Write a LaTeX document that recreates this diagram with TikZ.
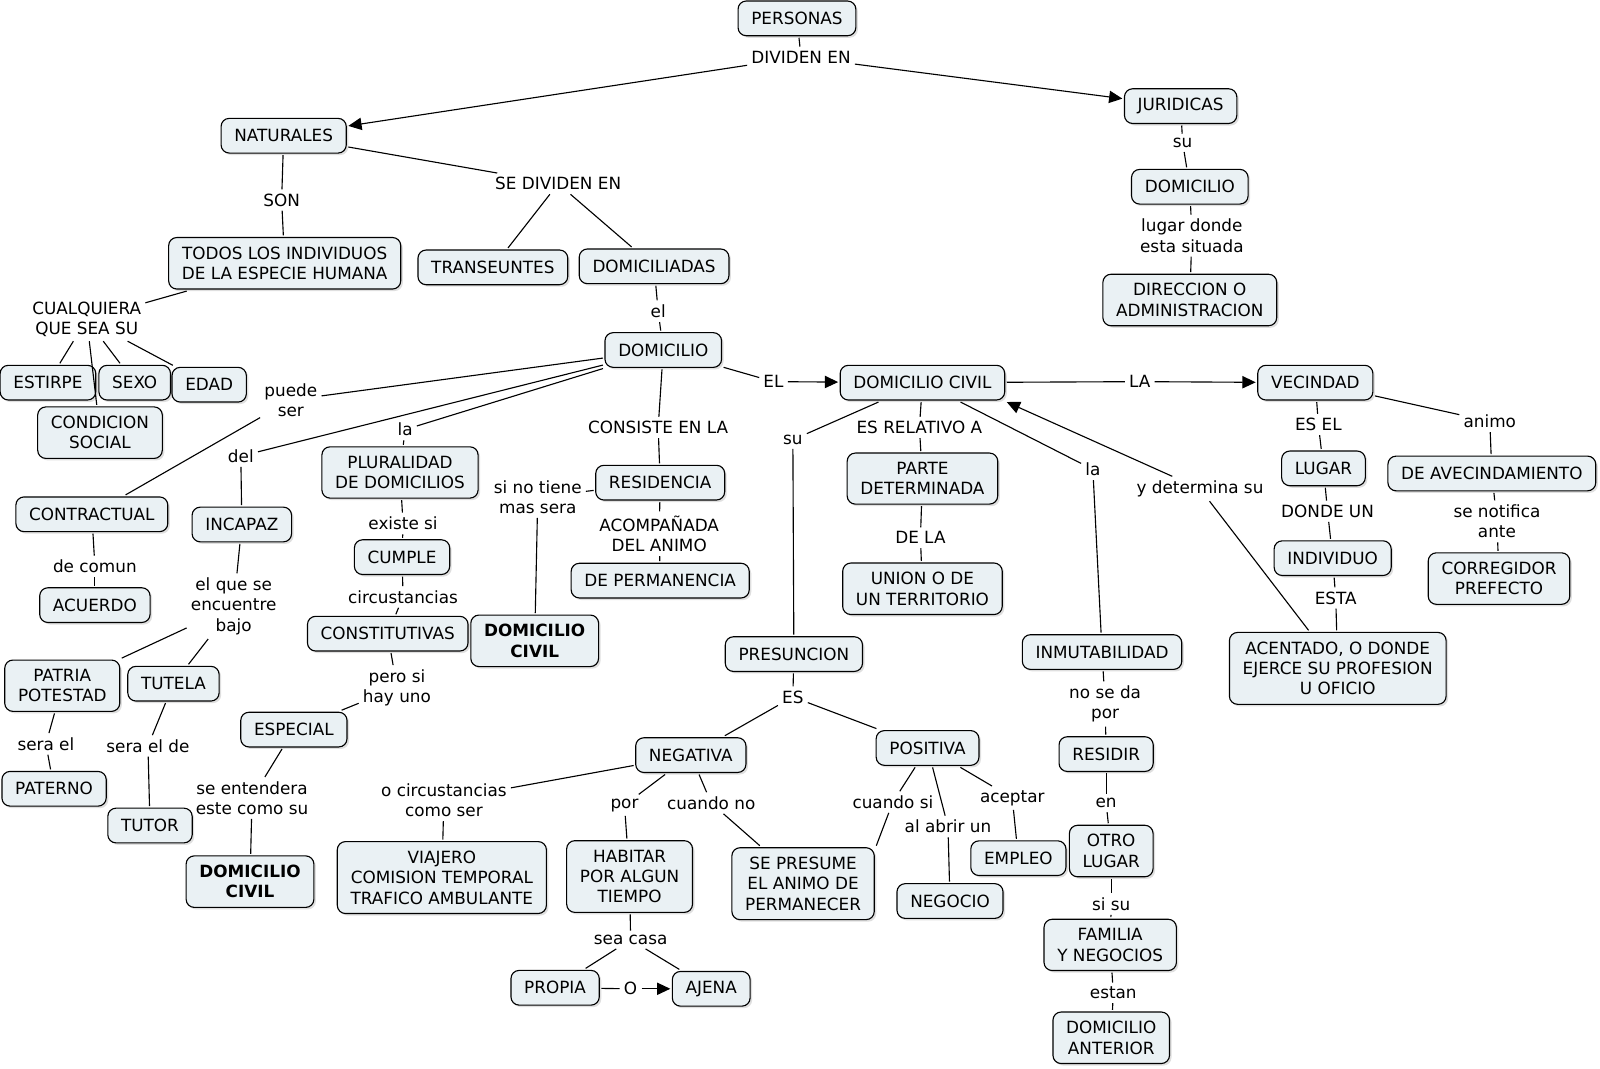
\documentclass[tikz,border=0pt]{standalone}
\usepackage{fontspec}
\setmainfont{DejaVu Sans}
\usepackage{xcolor}
\usepackage{tikz}
\usetikzlibrary{arrows.meta, shadows}

\definecolor{boxfill}{HTML}{EAF1F4}
\newcommand{\mapfont}{\fontsize{16.5}{20}\selectfont}

\begin{document}
\begin{tikzpicture}[
    x=1pt, y=-1pt,
    box/.style={draw, line width=1.1pt, rounded corners=8pt, fill=boxfill,
                minimum height=34pt, inner xsep=13pt, inner ysep=9pt,
                align=center, outer sep=2pt,
                drop shadow={opacity=0.25, shadow xshift=2pt, shadow yshift=-2pt}},
    boxbold/.style={box, font=\mapfont\bfseries},
    phrase/.style={inner xsep=4pt, inner ysep=4pt, align=center},
    conn/.style={line width=1.1pt},
    arrow/.style={-{Triangle[length=13pt, width=12pt]}, line width=1.1pt},
    every node/.style={font=\mapfont}
]
\useasboundingbox[fill=white] (0,0) rectangle (1568,1047);

% Top level
\node[box] (personas) at (781,18) {PERSONAS};
\node[phrase] (lDividen) at (785,56) {DIVIDEN EN};
\node[box] (naturales) at (278,133) {NATURALES};
\node[box] (juridicas) at (1157,104) {JURIDICAS};

% Juridicas
\node[phrase] (lSuJ) at (1159,140) {su};
\node[box] (domj) at (1166,183) {DOMICILIO};
\node[phrase] (lLugarDonde) at (1168,231) {lugar donde\\esta situada};
\node[box] (direccion) at (1166,294) {DIRECCION O\\ADMINISTRACION};

% Naturales
\node[phrase] (lSon) at (276,196) {SON};
\node[box] (todos) at (279,258) {TODOS LOS INDIVIDUOS\\DE LA ESPECIE HUMANA};
\node[phrase] (lSeDividen) at (547,180) {SE DIVIDEN EN};
\node[box] (transeuntes) at (483,262) {TRANSEUNTES};
\node[box] (domiciliadas) at (641,261) {DOMICILIADAS};
\node[phrase] (lCualquiera) at (85,313) {CUALQUIERA\\QUE SEA SU};
\node[box] (estirpe) at (47,375) {ESTIRPE};
\node[box] (sexo) at (132,375) {SEXO};
\node[box] (edad) at (205,377) {EDAD};
\node[box] (condicion) at (98,424) {CONDICION\\SOCIAL};

% Domicilio
\node[phrase] (lEl) at (645,305) {el};
\node[box] (domicilio) at (650,343) {DOMICILIO};
\node[phrase] (lPuede) at (285,392) {puede\\ser};
\node[box] (contractual) at (90,504) {CONTRACTUAL};
\node[phrase] (lComun) at (93,555) {de comun};
\node[box] (acuerdo) at (93,593) {ACUERDO};
\node[phrase] (lDel) at (236,447) {del};
\node[box] (incapaz) at (237,514) {INCAPAZ};
\node[phrase] (lBajo) at (229,594) {el que se\\encuentre\\bajo};
\node[box] (patria) at (61,672) {PATRIA\\POTESTAD};
\node[box] (tutela) at (170,670) {TUTELA};
\node[phrase] (lSeraEl) at (45,729) {sera el};
\node[box] (paterno) at (53,773) {PATERNO};
\node[phrase] (lSeraElDe) at (145,731) {sera el de};
\node[box] (tutor) at (147,809) {TUTOR};
\node[phrase] (lLa) at (397,421) {la};
\node[box] (pluralidad) at (392,463) {PLURALIDAD\\DE DOMICILIOS};
\node[phrase] (lExiste) at (395,513) {existe si};
\node[box] (cumple) at (394,546) {CUMPLE};
\node[phrase] (lCircus) at (395,585) {circustancias};
\node[box] (constitutivas) at (380,621) {CONSTITUTIVAS};
\node[phrase] (lPeroSi) at (389,674) {pero si\\hay uno};
\node[box] (especial) at (288,715) {ESPECIAL};
\node[phrase] (lEntendera) at (247,782) {se entendera\\este como su};
\node[boxbold] (dcivilc) at (245,864) {DOMICILIO\\CIVIL};
\node[phrase] (lConsiste) at (645,419) {CONSISTE EN LA};
\node[box] (residencia) at (647,473) {RESIDENCIA};
\node[phrase] (lNoTiene) at (527,487) {si no tiene\\mas sera};
\node[boxbold] (dcivilb) at (524,628) {DOMICILIO\\CIVIL};
\node[phrase] (lAcomp) at (646,523) {ACOMPAÑADA\\DEL ANIMO};
\node[box] (permanencia) at (647,569) {DE PERMANENCIA};

% Domicilio civil
\node[phrase] (lEL) at (758,374) {EL};
\node[box] (dcivil) at (904,375) {DOMICILIO CIVIL};
\node[phrase] (lSu) at (777,431) {su};
\node[box] (presuncion) at (778,641) {PRESUNCION};
\node[phrase] (lES) at (777,683) {ES};
\node[box] (negativa) at (677,740) {NEGATIVA};
\node[box] (positiva) at (909,733) {POSITIVA};
\node[phrase] (lComoSer) at (435,784) {o circustancias\\como ser};
\node[box] (viajero) at (433,860) {VIAJERO\\COMISION TEMPORAL\\TRAFICO AMBULANTE};
\node[phrase] (lPor) at (612,789) {por};
\node[box] (habitar) at (617,859) {HABITAR\\POR ALGUN\\TIEMPO};
\node[phrase] (lSeaCasa) at (618,921) {sea casa};
\node[box] (propia) at (544,968) {PROPIA};
\node[phrase] (lO) at (618,969) {O};
\node[box] (ajena) at (697,969) {AJENA};
\node[phrase] (lCuandoNo) at (697,787) {cuando no};
\node[box] (sepresume) at (787,866) {SE PRESUME\\EL ANIMO DE\\PERMANECER};
\node[phrase] (lCuandoSi) at (875,786) {cuando si};
\node[phrase] (lAlAbrir) at (929,810) {al abrir un};
\node[box] (negocio) at (931,883) {NEGOCIO};
\node[phrase] (lAceptar) at (992,782) {aceptar};
\node[box] (empleo) at (998,841) {EMPLEO};
\node[phrase] (lRelativo) at (901,419) {ES RELATIVO A};
\node[box] (parte) at (904,469) {PARTE\\DETERMINADA};
\node[phrase] (lDeLa) at (902,527) {DE LA};
\node[box] (union) at (904,577) {UNION O DE\\UN TERRITORIO};
\node[phrase] (lLaInm) at (1071,460) {la};
\node[box] (inmutab) at (1080,639) {INMUTABILIDAD};
\node[phrase] (lNoSeDa) at (1083,690) {no se da\\por};
\node[box] (residir) at (1084,739) {RESIDIR};
\node[phrase] (lEn) at (1084,787) {en};
\node[box] (otrolugar) at (1089,834) {OTRO\\LUGAR};
\node[phrase] (lSiSu) at (1089,886) {si su};
\node[box] (familia) at (1088,926) {FAMILIA\\Y NEGOCIOS};
\node[phrase] (lEstan) at (1091,973) {estan};
\node[box] (domant) at (1089,1017) {DOMICILIO\\ANTERIOR};

% Vecindad
\node[phrase] (lLA) at (1117,374) {LA};
\node[box] (vecindad) at (1289,375) {VECINDAD};
\node[phrase] (lEsEl) at (1292,416) {ES EL};
\node[box] (lugar) at (1297,459) {LUGAR};
\node[phrase] (lDondeUn) at (1301,501) {DONDE UN};
\node[box] (individuo) at (1306,547) {INDIVIDUO};
\node[phrase] (lEsta) at (1309,586) {ESTA};
\node[box] (acentado) at (1311,655) {ACENTADO, O DONDE\\EJERCE SU PROFESION\\U OFICIO};
\node[phrase] (lDetermina) at (1176,479) {y determina su};
\node[phrase] (lAnimo) at (1460,413) {animo};
\node[box] (avecind) at (1462,464) {DE AVECINDAMIENTO};
\node[phrase] (lNotifica) at (1467,511) {se notifica\\ante};
\node[box] (corregidor) at (1469,567) {CORREGIDOR\\PREFECTO};

% Connectors
\draw[conn] (personas) -- (lDividen);
\draw[arrow] (lDividen) -- (naturales);
\draw[arrow] (lDividen) -- (juridicas);
\draw[conn] (juridicas) -- (lSuJ);
\draw[conn] (lSuJ) -- (domj);
\draw[conn] (domj) -- (lLugarDonde);
\draw[conn] (lLugarDonde) -- (direccion);
\draw[conn] (naturales) -- (lSon);
\draw[conn] (lSon) -- (todos);
\draw[conn] (naturales) -- (lSeDividen);
\draw[conn] (lSeDividen) -- (transeuntes);
\draw[conn] (lSeDividen) -- (domiciliadas);
\draw[conn] (todos) -- (lCualquiera);
\draw[conn] (lCualquiera) -- (estirpe);
\draw[conn] (lCualquiera) -- (sexo);
\draw[conn] (lCualquiera) -- (edad);
\draw[conn] (lCualquiera) -- (condicion);
\draw[conn] (domiciliadas) -- (lEl);
\draw[conn] (lEl) -- (domicilio);
\draw[conn] (domicilio) -- (lPuede);
\draw[conn] (lPuede) -- (contractual);
\draw[conn] (contractual) -- (lComun);
\draw[conn] (lComun) -- (acuerdo);
\draw[conn] (domicilio) -- (lDel);
\draw[conn] (lDel) -- (incapaz);
\draw[conn] (incapaz) -- (lBajo);
\draw[conn] (lBajo) -- (patria);
\draw[conn] (lBajo) -- (tutela);
\draw[conn] (patria) -- (lSeraEl);
\draw[conn] (lSeraEl) -- (paterno);
\draw[conn] (tutela) -- (lSeraElDe);
\draw[conn] (lSeraElDe) -- (tutor);
\draw[conn] (domicilio) -- (lLa);
\draw[conn] (lLa) -- (pluralidad);
\draw[conn] (pluralidad) -- (lExiste);
\draw[conn] (lExiste) -- (cumple);
\draw[conn] (cumple) -- (lCircus);
\draw[conn] (lCircus) -- (constitutivas);
\draw[conn] (constitutivas) -- (lPeroSi);
\draw[conn] (lPeroSi) -- (especial);
\draw[conn] (especial) -- (lEntendera);
\draw[conn] (lEntendera) -- (dcivilc);
\draw[conn] (domicilio) -- (lConsiste);
\draw[conn] (lConsiste) -- (residencia);
\draw[conn] (residencia) -- (lNoTiene);
\draw[conn] (lNoTiene) -- (dcivilb);
\draw[conn] (residencia) -- (lAcomp);
\draw[conn] (lAcomp) -- (permanencia);
\draw[conn] (domicilio) -- (lEL);
\draw[arrow] (lEL) -- (dcivil);
\draw[conn] (dcivil) -- (lSu);
\draw[conn] (lSu) -- (presuncion);
\draw[conn] (presuncion) -- (lES);
\draw[conn] (lES) -- (negativa);
\draw[conn] (lES) -- (positiva);
\draw[conn] (negativa) -- (lComoSer);
\draw[conn] (lComoSer) -- (viajero);
\draw[conn] (negativa) -- (lPor);
\draw[conn] (lPor) -- (habitar);
\draw[conn] (habitar) -- (lSeaCasa);
\draw[conn] (lSeaCasa) -- (propia);
\draw[conn] (lSeaCasa) -- (ajena);
\draw[conn] (propia) -- (lO);
\draw[arrow] (lO) -- (ajena);
\draw[conn] (negativa) -- (lCuandoNo);
\draw[conn] (lCuandoNo) -- (sepresume);
\draw[conn] (positiva) -- (lCuandoSi);
\draw[conn] (lCuandoSi) -- (sepresume.north east);
\draw[conn] (positiva) -- (lAlAbrir);
\draw[conn] (lAlAbrir) -- (negocio);
\draw[conn] (positiva) -- (lAceptar);
\draw[conn] (lAceptar) -- (empleo);
\draw[conn] (dcivil) -- (lRelativo);
\draw[conn] (lRelativo) -- (parte);
\draw[conn] (parte) -- (lDeLa);
\draw[conn] (lDeLa) -- (union);
\draw[conn] (dcivil) -- (lLaInm);
\draw[conn] (lLaInm) -- (inmutab);
\draw[conn] (inmutab) -- (lNoSeDa);
\draw[conn] (lNoSeDa) -- (residir);
\draw[conn] (residir) -- (lEn);
\draw[conn] (lEn) -- (otrolugar);
\draw[conn] (otrolugar) -- (lSiSu);
\draw[conn] (lSiSu) -- (familia);
\draw[conn] (familia) -- (lEstan);
\draw[conn] (lEstan) -- (domant);
\draw[conn] (dcivil) -- (lLA);
\draw[arrow] (lLA) -- (vecindad);
\draw[conn] (vecindad) -- (lEsEl);
\draw[conn] (lEsEl) -- (lugar);
\draw[conn] (lugar) -- (lDondeUn);
\draw[conn] (lDondeUn) -- (individuo);
\draw[conn] (individuo) -- (lEsta);
\draw[conn] (lEsta) -- (acentado);
\draw[conn] (acentado) -- (lDetermina);
\draw[arrow] (lDetermina) -- (dcivil.south east);
\draw[conn] (vecindad) -- (lAnimo);
\draw[conn] (lAnimo) -- (avecind);
\draw[conn] (avecind) -- (lNotifica);
\draw[conn] (lNotifica) -- (corregidor);
\end{tikzpicture}
\end{document}
